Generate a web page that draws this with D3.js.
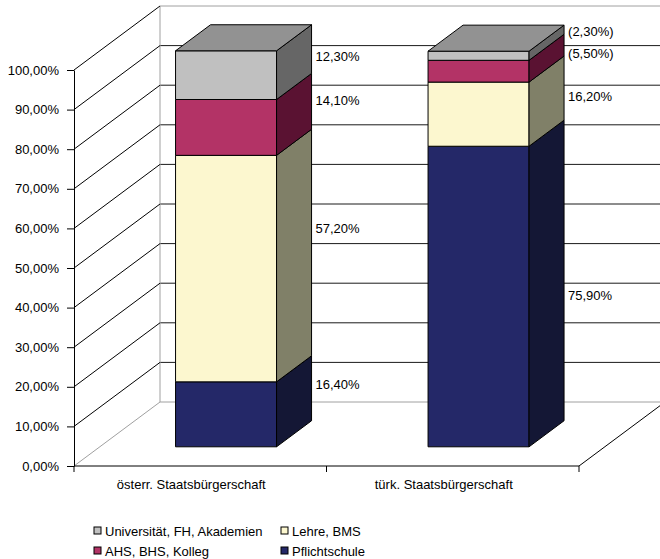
<!DOCTYPE html>
<html>
<head>
<meta charset="utf-8">
<script src="https://cdn.jsdelivr.net/npm/d3@7"></script>
<style>
  body { margin: 0; background: #fff; }
  svg { display: block; }
  text { font-family: "Liberation Sans", Arial, sans-serif; font-size: 13px; fill: #000; }
</style>
</head>
<body>
<svg id="chart" width="660" height="559"></svg>
<script>
// Highest completed education, by citizenship (stacked to 100 %)
const categories = ["österr. Staatsbürgerschaft", "türk. Staatsbürgerschaft"];
const seriesNames = ["Pflichtschule", "Lehre, BMS", "AHS, BHS, Kolleg", "Universität, FH, Akademien"];
const pflichtschule = [16.4, 75.9];
const lehre = [57.2, 16.2];
const ahsBhs = [14.1, 5.5];
const universitaet = [12.3, 2.3];
const yTickValues = [0, 10, 20, 30, 40, 50, 60, 70, 80, 90, 100];
const legendOrder = ["Universität, FH, Akademien", "Lehre, BMS", "AHS, BHS, Kolleg", "Pflichtschule"];

// face colours per series: front, side (shaded), top
const palette = {
  "Pflichtschule":              { front: "#242868", side: "#141735", top: "#1c2050" },
  "Lehre, BMS":                 { front: "#FCF7CF", side: "#808068", top: "#C8C4A4" },
  "AHS, BHS, Kolleg":           { front: "#B33366", side: "#5A1232", top: "#8C284F" },
  "Universität, FH, Akademien": { front: "#C0C0C0", side: "#666666", top: "#929292" }
};

// vertical label nudges (px) per category, in series order, to keep labels clear of each other
const labelNudge = [[-4, -14, -1, 7], [25, 8, 8, 2]];

const seriesValues = [pflichtschule, lehre, ahsBhs, universitaet];
const stackRows = categories.map((c, i) => {
  const row = { category: c };
  seriesNames.forEach((s, k) => { row[s] = seriesValues[k][i]; });
  return row;
});
const stacked = d3.stack().keys(seriesNames)(stackRows);

const svg = d3.select("#chart");

// front plane scales
const x = d3.scaleBand().domain(categories).range([74, 579]).paddingInner(0.6).paddingOuter(0.3);
const y = d3.scaleLinear().domain([0, 100]).range([466, 70]);

// oblique depth: z = 0 front plane, z = 1 back wall
const depthDx = 86, depthDy = 64;
const P = (px, v, z) => [px + z * depthDx, y(v) - z * depthDy];
const zFront = 0.3, zBack = 0.707;
const xLeft = x.range()[0], xRight = x.range()[1];

const fmt = v => d3.format(".2f")(v).replace(".", ",") + "%";
const line = d3.line();

// back wall gridlines
const walls = svg.append("g");
yTickValues.forEach(t => {
  const edge = t === 0 || t === 100;
  walls.append("path")
    .attr("d", line([P(xLeft, t, 1), P(xRight + 10, t, 1)]))
    .attr("stroke", edge ? "#a0a0a0" : "#1a1a1a").attr("fill", "none").attr("stroke-width", 1);
});
walls.append("path").attr("d", line([P(xLeft, 0, 1), P(xLeft, 100, 1)]))
  .attr("stroke", "#a0a0a0").attr("fill", "none");

// side wall gridlines (diagonals)
yTickValues.forEach(t => {
  walls.append("path")
    .attr("d", line([P(xLeft, t, 0), P(xLeft, t, 1)]))
    .attr("stroke", t === 0 ? "#a0a0a0" : "#000").attr("fill", "none");
});
// floor right edge
walls.append("path").attr("d", line([P(xRight, 0, 0), P(xRight, 0, 1)]))
  .attr("stroke", "#000").attr("fill", "none");

// value axis
const yAxis = d3.axisLeft(y).tickValues(yTickValues).tickFormat(fmt).tickSize(7).tickSizeOuter(0).tickPadding(8);
const ya = svg.append("g").attr("transform", `translate(${xLeft},0)`).call(yAxis);
ya.select(".domain").attr("stroke", "#000");
ya.selectAll(".tick line").attr("stroke", "#000");
ya.selectAll("text").style("font-size", "13px").attr("fill", "#000").style("font-family", "'Liberation Sans', Arial, sans-serif");

// category axis: line with ticks on band boundaries
const ca = svg.append("g");
ca.append("path").attr("d", line([[xLeft, y(0)], [xRight, y(0)]])).attr("stroke", "#000").attr("fill", "none");
const bounds = categories.map(c => x(c) - x.step() * x.paddingInner() / 2).concat([xRight]);
bounds.forEach(b => {
  ca.append("path").attr("d", line([[b, y(0)], [b, y(0) + 6]])).attr("stroke", "#000").attr("fill", "none");
});
categories.forEach(c => {
  ca.append("text").attr("x", x(c) + x.bandwidth() / 2 - 9).attr("y", y(0) + 23)
    .attr("text-anchor", "middle").text(c);
});

// bars
const bars = svg.append("g");
const poly = pts => "M" + pts.map(p => p.join(",")).join("L") + "Z";
categories.forEach((c, i) => {
  const x0 = x(c), x1 = x(c) + x.bandwidth();
  stacked.forEach(layer => {
    const s = layer.key, lo = layer[i][0], hi = layer[i][1];
    const col = palette[s];
    // front
    bars.append("path").attr("d", poly([P(x0, lo, zFront), P(x1, lo, zFront), P(x1, hi, zFront), P(x0, hi, zFront)]))
      .attr("fill", col.front).attr("stroke", "#000").attr("stroke-width", 1).attr("stroke-linejoin", "round");
    // side
    bars.append("path").attr("d", poly([P(x1, lo, zFront), P(x1, lo, zBack), P(x1, hi, zBack), P(x1, hi, zFront)]))
      .attr("fill", col.side).attr("stroke", "#000").attr("stroke-width", 1).attr("stroke-linejoin", "round");
  });
  // top face of the topmost segment
  const topLayer = stacked[stacked.length - 1];
  const topV = topLayer[i][1];
  bars.append("path").attr("d", poly([P(x0, topV, zFront), P(x1, topV, zFront), P(x1, topV, zBack), P(x0, topV, zBack)]))
    .attr("fill", palette[topLayer.key].top).attr("stroke", "#000").attr("stroke-width", 1).attr("stroke-linejoin", "round");
});

// value labels beside the shaded side
const labels = svg.append("g");
categories.forEach((c, i) => {
  const x1 = x(c) + x.bandwidth();
  stacked.forEach((layer, k) => {
    const lo = layer[i][0], hi = layer[i][1], v = hi - lo;
    const p = P(x1, (lo + hi) / 2, zBack);
    const txt = v < 10 ? "(" + fmt(v) + ")" : fmt(v);
    labels.append("text").attr("x", p[0] + 4).attr("y", p[1] + labelNudge[i][k]).attr("dy", "0.35em").text(txt);
  });
});

// legend, two columns
const legend = svg.append("g");
const colX = [94, 281], rowY = [531, 551];
legendOrder.forEach((s, k) => {
  const gx = colX[k % 2], gy = rowY[Math.floor(k / 2)];
  legend.append("rect").attr("x", gx).attr("y", gy - 4).attr("width", 7).attr("height", 7)
    .attr("fill", palette[s].front).attr("stroke", "#000").attr("stroke-width", 1);
  legend.append("text").attr("x", gx + 11).attr("y", gy).attr("dy", "0.35em").text(s);
});
</script>
</body>
</html>
